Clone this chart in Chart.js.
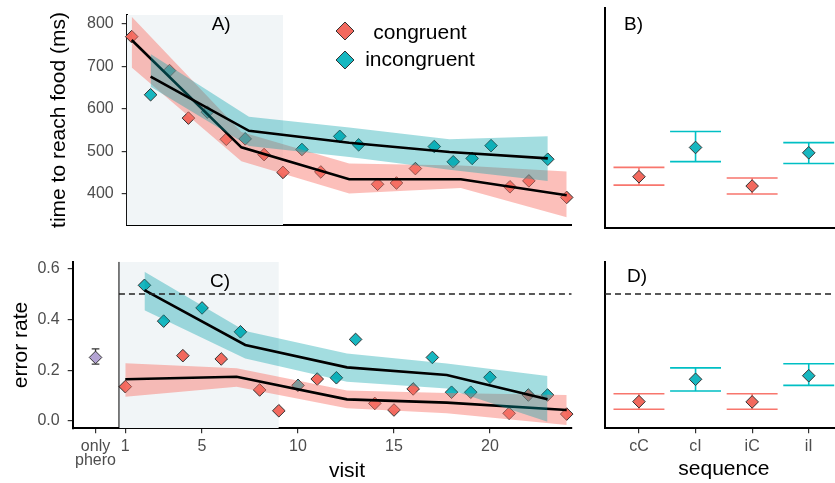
<!DOCTYPE html>
<html>
<head>
<meta charset="utf-8">
<script src="https://cdn.jsdelivr.net/npm/chart.js@4.4.1/dist/chart.umd.min.js"></script>
<style>
html, body { margin: 0; padding: 0; background: #fff; overflow: hidden; width: 835px; height: 483px; }
canvas { position: absolute; }
</style>
</head>
<body>
<canvas id="chartA" width="580" height="240" style="left:0;top:0"></canvas>
<canvas id="chartB" width="270" height="240" style="left:580px;top:0"></canvas>
<canvas id="chartC" width="580" height="243" style="left:0;top:240px"></canvas>
<canvas id="chartD" width="270" height="243" style="left:580px;top:240px"></canvas>
<script>
const seriesNames = ['congruent', 'incongruent'];

// A) time to reach food (ms) per visit
const conVisits = [1, 4, 6, 8, 9, 11, 14, 15, 16, 21, 22, 24];
const conTime = [770, 578, 528, 492, 450, 451, 422, 425, 459, 416, 430, 391];
const incVisits = [2, 3, 5, 7, 10, 12, 13, 17, 18, 19, 20, 23];
const incTime = [633, 690, 592, 529, 504, 535, 515, 511, 475, 483, 513, 481];

// A) fitted lines + confidence bands
const conFitVisitsA = [1, 6.8, 12.5, 18.4, 24];
const conFitTime = [762, 509, 434, 434, 396];
const conFitTimeLo = [697, 476, 400, 413, 344];
const conFitTimeHi = [817, 545, 471, 466, 452];
const incFitVisitsA = [2, 7.2, 12.5, 17.8, 23];
const incFitTime = [676, 548, 520, 498, 483];
const incFitTimeLo = [652, 512, 486, 456, 430];
const incFitTimeHi = [729, 581, 556, 528, 535];

// C) error rate per visit
const conErr = [0.135, 0.257, 0.244, 0.122, 0.040, 0.165, 0.069, 0.043, 0.126, 0.030, 0.102, 0.027];
const incErr = [0.534, 0.393, 0.445, 0.351, 0.140, 0.170, 0.321, 0.250, 0.113, 0.113, 0.172, 0.102];

const conFitVisitsC = [1, 6.8, 12.55, 17.75, 24];
const conFitErr = [0.164, 0.174, 0.085, 0.072, 0.043];
const conFitErrLo = [0.095, 0.135, 0.050, 0.030, -0.016];
const conFitErrHi = [0.227, 0.207, 0.120, 0.110, 0.102];
const incFitVisitsC = [2, 7.25, 12.55, 17.75, 23];
const incFitErr = [0.515, 0.299, 0.211, 0.181, 0.085];
const incFitErrLo = [0.436, 0.246, 0.154, 0.128, -0.003];
const incFitErrHi = [0.587, 0.354, 0.266, 0.226, 0.177];

// only pheromone
const pheroErr = 0.25, pheroErrLo = 0.224, pheroErrHi = 0.284;
const chanceLevel = 0.5;
const learnStart = 0.67, learnEnd = 9;

// B) and D) by sequence
const seqLabels = ['cC', 'cI', 'iC', 'iI'];
const seqGroup = [0, 1, 0, 1];
const seqTime = [441, 507, 420, 495];
const seqTimeLo = [422, 475, 402, 471];
const seqTimeHi = [462, 543, 438, 518];
const seqErr = [0.076, 0.164, 0.075, 0.178];
const seqErrLo = [0.046, 0.118, 0.046, 0.140];
const seqErrHi = [0.107, 0.209, 0.107, 0.225];

// axes
const timeTicks = [400, 500, 600, 700, 800];
const errTicks = [0, 0.2, 0.4, 0.6];
const visitTicks = [1, 5, 10, 15, 20];
const pheroPos = -0.55;
const timeRange = [326, 821];
const errRange = [-0.029, 0.627];
const visitRangeA = [0.736, 24.264];
const visitRangeC = [-1.74, 24.26];
const seqRange = [0.4, 4.6];

const colors = ['#F2695E', '#17B7C0'];
const barColors = ['#F8766D', '#00BFC4'];
const bands = ['rgba(248,118,109,0.47)', 'rgba(0,160,170,0.36)'];
const pheroColor = '#B3A3D3';
const shadeColor = '#F1F5F7';
const fam = "'Liberation Sans', Arial, Helvetica, sans-serif";
Chart.defaults.font.family = fam;
Chart.defaults.color = '#4D4D4D';

const seqPos = seqLabels.map((s, i) => i + 1);
const pts = (xs, ys) => xs.map((x, i) => ({x: x, y: ys[i]}));
const pick = (arr, g) => arr.filter((v, i) => seqGroup[i] === g);

function bars(xs, lo, hi, half) {
    const out = [];
    xs.forEach((x, i) => {
        out.push({x: x - half, y: hi[i]}, {x: x + half, y: hi[i]}, {x: x, y: null});
        out.push({x: x - half, y: lo[i]}, {x: x + half, y: lo[i]}, {x: x, y: null});
        out.push({x: x, y: lo[i]}, {x: x, y: hi[i]}, {x: x, y: null});
    });
    return out;
}

function pointSet(data, color, order) {
    return {data: data, showLine: false, pointStyle: 'rectRot', pointRadius: 6.3,
        pointBackgroundColor: color, pointBorderColor: '#333', pointBorderWidth: 1, clip: false, order: order};
}
function lineSet(data, color, width, order, dash) {
    return {data: data, borderColor: color, borderWidth: width, pointRadius: 0, fill: false,
        borderDash: dash || [], borderCapStyle: 'butt', order: order};
}
function bandHi(data, color, order) {
    return {data: data, borderWidth: 0, pointRadius: 0, fill: '+1', backgroundColor: color, order: order};
}
function bandLo(data, order) {
    return {data: data, borderWidth: 0, pointRadius: 0, fill: false, order: order};
}
function shadeSet(top) {
    return {data: [{x: learnStart, y: top}, {x: learnEnd, y: top}], borderWidth: 0, pointRadius: 0,
        fill: 'start', backgroundColor: shadeColor, order: 60};
}

const panelText = {
    id: 'panelText',
    afterDraw(chart, args, opts) {
        const ctx = chart.ctx;
        (opts.keys || []).forEach(k => {
            ctx.save();
            ctx.beginPath();
            ctx.moveTo(k.x - k.r, k.y); ctx.lineTo(k.x, k.y - k.r);
            ctx.lineTo(k.x + k.r, k.y); ctx.lineTo(k.x, k.y + k.r);
            ctx.closePath();
            ctx.fillStyle = k.color; ctx.fill();
            ctx.strokeStyle = '#333'; ctx.lineWidth = 1; ctx.stroke();
            ctx.restore();
        });
        (opts.items || []).forEach(t => {
            ctx.save();
            ctx.font = t.size + 'px ' + fam;
            ctx.fillStyle = t.color || '#000';
            ctx.textAlign = t.align || 'left';
            ctx.textBaseline = 'alphabetic';
            ctx.fillText(t.text, t.x, t.y);
            ctx.restore();
        });
    }
};

function tickGrid() {
    return {display: true, drawOnChartArea: false, drawTicks: true, tickLength: 5, color: '#333', lineWidth: 1.2};
}
const axisBorder = {display: true, color: '#000', width: 2};
const tickFont = {size: 16, lineHeight: 0.875};
const titleFont = {size: 21};

function baseOptions(pad, textOpts, scales) {
    return {
        responsive: false, animation: false, events: [],
        layout: {padding: pad},
        plugins: {legend: {display: false}, tooltip: {enabled: false}, panelText: textOpts},
        scales: scales
    };
}

// A) time to reach food
new Chart(document.getElementById('chartA'), {
    type: 'line',
    data: {datasets: [
        shadeSet(timeRange[1]),
        pointSet(pts(conVisits, conTime), colors[0], 21),
        pointSet(pts(incVisits, incTime), colors[1], 20),
        bandHi(pts(conFitVisitsA, conFitTimeHi), bands[0], 13),
        bandLo(pts(conFitVisitsA, conFitTimeLo), 13),
        lineSet(pts(conFitVisitsA, conFitTime), '#000', 2.6, 12),
        bandHi(pts(incFitVisitsA, incFitTimeHi), bands[1], 11),
        bandLo(pts(incFitVisitsA, incFitTimeLo), 11),
        lineSet(pts(incFitVisitsA, incFitTime), '#000', 2.6, 10)
    ]},
    options: baseOptions({top: 8.3, right: 8.3, left: 0, bottom: 0}, {
        items: [
            {text: 'A)', x: 211.7, y: 29.5, size: 19},
            {text: seriesNames[0], x: 420, y: 38.5, size: 21, align: 'center'},
            {text: seriesNames[1], x: 420, y: 65.5, size: 21, align: 'center'}
        ],
        keys: [
            {x: 345, y: 31, r: 9, color: colors[0]},
            {x: 345, y: 60, r: 9, color: colors[1]}
        ]
    }, {
        x: {type: 'linear', min: visitRangeA[0], max: visitRangeA[1],
            grid: {display: false}, ticks: {display: false}, border: axisBorder,
            afterFit(s) { s.height = 12.3; }},
        y: {type: 'linear', min: timeRange[0], max: timeRange[1],
            afterBuildTicks(s) { s.ticks = timeTicks.map(v => ({value: v})); },
            ticks: {font: tickFont, padding: 8, color: '#4D4D4D'},
            grid: tickGrid(), border: axisBorder,
            title: {display: true, text: 'time to reach food (ms)', color: '#000', font: titleFont, padding: {top: 46.4, bottom: 0}},
            afterFit(s) { s.width = 126.7; }}
    }),
    plugins: [panelText]
});

// B) time by sequence
new Chart(document.getElementById('chartB'), {
    type: 'line',
    data: {datasets: [0, 1].map(g => lineSet(bars(pick(seqPos, g), pick(seqTimeLo, g), pick(seqTimeHi, g), 0.45), barColors[g], 1.6, 5 + g))
        .concat([0, 1].map(g => pointSet(pts(pick(seqPos, g), pick(seqTime, g)), colors[g], 2 - g)))},
    options: baseOptions({top: 8.3, right: 4, left: 0, bottom: 0}, {
        items: [{text: 'B)', x: 44, y: 29.5, size: 19}]
    }, {
        x: {type: 'linear', min: seqRange[0], max: seqRange[1],
            grid: {display: false}, ticks: {display: false}, border: axisBorder,
            afterFit(s) { s.height = 12.3; }},
        y: {type: 'linear', min: timeRange[0], max: timeRange[1],
            grid: {display: false}, ticks: {display: false}, border: axisBorder,
            afterFit(s) { s.width = 25; }}
    }),
    plugins: [panelText]
});

// C) error rate
new Chart(document.getElementById('chartC'), {
    type: 'line',
    data: {datasets: [
        shadeSet(errRange[1]),
        pointSet(pts(conVisits, conErr), colors[0], 21),
        pointSet(pts(incVisits, incErr), colors[1], 20),
        bandHi(pts(conFitVisitsC, conFitErrHi), bands[0], 13),
        bandLo(pts(conFitVisitsC, conFitErrLo), 13),
        lineSet(pts(conFitVisitsC, conFitErr), '#000', 2.6, 12),
        bandHi(pts(incFitVisitsC, incFitErrHi), bands[1], 11),
        bandLo(pts(incFitVisitsC, incFitErrLo), 11),
        lineSet(pts(incFitVisitsC, incFitErr), '#000', 2.6, 10),
        lineSet(bars([pheroPos], [pheroErrLo], [pheroErrHi], 0.2), '#333', 1.3, 4),
        pointSet([{x: pheroPos, y: pheroErr}], pheroColor, 3),
        lineSet([{x: learnStart, y: errRange[0]}, {x: learnStart, y: errRange[1]}], '#000', 1, 2),
        lineSet([{x: learnStart, y: chanceLevel}, {x: visitRangeC[1], y: chanceLevel}], '#222', 1.4, 1, [6, 4])
    ]},
    options: baseOptions({top: 21.7, right: 8.3, left: 0, bottom: 0}, {
        items: [
            {text: 'C)', x: 210, y: 46.7, size: 19},
            {text: 'visit', x: 347, y: 237, size: 21, align: 'center'}
        ]
    }, {
        x: {type: 'linear', min: visitRangeC[0], max: visitRangeC[1],
            afterBuildTicks(s) { s.ticks = [pheroPos].concat(visitTicks).map(v => ({value: v})); },
            ticks: {font: tickFont, padding: 6, color: '#4D4D4D', maxRotation: 0, autoSkip: false,
                callback: v => v === pheroPos ? ['only', 'phero'] : v},
            grid: tickGrid(), border: axisBorder,
            afterFit(s) { s.height = 54.7; }},
        y: {type: 'linear', min: errRange[0], max: errRange[1],
            afterBuildTicks(s) { s.ticks = errTicks.map(v => ({value: v})); },
            ticks: {font: tickFont, padding: 8, color: '#4D4D4D', callback: v => v.toFixed(1)},
            grid: tickGrid(), border: axisBorder,
            title: {display: true, text: 'error rate', color: '#000', font: titleFont, padding: {top: 9, bottom: 0}},
            afterFit(s) { s.width = 72.7; }}
    }),
    plugins: [panelText]
});

// D) error rate by sequence
new Chart(document.getElementById('chartD'), {
    type: 'line',
    data: {datasets: [lineSet([{x: seqRange[0], y: chanceLevel}, {x: seqRange[1], y: chanceLevel}], '#222', 1.4, 1, [6, 4])]
        .concat([0, 1].map(g => lineSet(bars(pick(seqPos, g), pick(seqErrLo, g), pick(seqErrHi, g), 0.45), barColors[g], 1.6, 5 + g)))
        .concat([0, 1].map(g => pointSet(pts(pick(seqPos, g), pick(seqErr, g)), colors[g], 3 - g)))},
    options: baseOptions({top: 21.7, right: 4, left: 0, bottom: 0}, {
        items: [{text: 'D)', x: 47, y: 41.7, size: 19}]
    }, {
        x: {type: 'linear', min: seqRange[0], max: seqRange[1],
            afterBuildTicks(s) { s.ticks = seqPos.map(v => ({value: v})); },
            ticks: {font: tickFont, padding: 6, color: '#4D4D4D', maxRotation: 0, autoSkip: false,
                callback: v => seqLabels[v - 1]},
            grid: tickGrid(), border: axisBorder,
            title: {display: true, text: 'sequence', color: '#000', font: titleFont, padding: {top: 0, bottom: 0.7}},
            afterFit(s) { s.height = 54.7; }},
        y: {type: 'linear', min: errRange[0], max: errRange[1],
            grid: {display: false}, ticks: {display: false}, border: axisBorder,
            afterFit(s) { s.width = 25; }}
    }),
    plugins: [panelText]
});
</script>
</body>
</html>
